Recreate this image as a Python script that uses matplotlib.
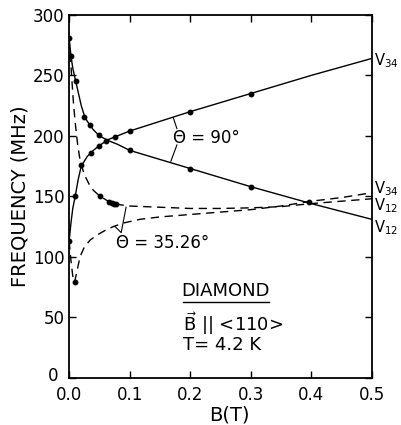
import numpy as np
import matplotlib.pyplot as plt
from matplotlib.transforms import ScaledTranslation

# theta = 90 deg (solid), line vertices and measured points
b_v34_90 = [0, 0.003, 0.006, 0.01, 0.015, 0.02, 0.03, 0.04, 0.05, 0.065, 0.08, 0.1, 0.2, 0.3, 0.4, 0.5]
f_v34_90 = [113, 128, 140, 150, 164, 175, 183, 188, 192, 197, 200, 204, 220, 235, 250, 264]
b_v34_90_pts = [0, 0.01, 0.02, 0.036, 0.05, 0.061, 0.076, 0.1, 0.2, 0.3]
f_v34_90_pts = [113, 150, 176, 186, 192, 196, 199, 204, 220, 235]

b_v12_90 = [0, 0.003, 0.006, 0.01, 0.015, 0.02, 0.025, 0.03, 0.04, 0.05, 0.065, 0.08, 0.1, 0.2, 0.3, 0.4, 0.5]
f_v12_90 = [281, 266, 256, 247, 236, 225, 217, 212, 205, 200, 196, 193, 188, 173, 158, 144, 131]
b_v12_90_pts = [0, 0.003, 0.0115, 0.025, 0.035, 0.05, 0.1, 0.2, 0.3]
f_v12_90_pts = [281, 266, 245, 216, 209, 201, 188, 173, 158]

# theta = 35.26 deg (dashed)
b_v12_35 = [0.002, 0.004, 0.007, 0.01, 0.014, 0.018, 0.025, 0.033, 0.04, 0.051, 0.068, 0.085, 0.1,
            0.15, 0.2, 0.25, 0.3, 0.35, 0.4, 0.45, 0.5]
f_v12_35 = [268, 250, 228, 211, 193, 180, 168, 160, 155, 150, 145, 143, 142,
            141, 140, 140, 140.5, 141.5, 144, 146, 148]
b_v12_35_pts = [0.051, 0.066, 0.07, 0.074, 0.077, 0.396]
f_v12_35_pts = [150, 145.5, 144.5, 144, 143.5, 145]

b_v34_35 = [0, 0.003, 0.006, 0.009, 0.012, 0.018, 0.025, 0.035, 0.046, 0.06, 0.073, 0.09, 0.117,
            0.15, 0.2, 0.25, 0.3, 0.35, 0.4, 0.45, 0.5]
f_v34_35 = [113, 97, 84, 79, 86, 100, 108, 114, 118, 122, 125, 128, 131,
            133, 135, 137, 139, 142, 146, 149, 153]
b_v34_35_pts = [0.009]
f_v34_35_pts = [79]

xticks = [0.0, 0.1, 0.2, 0.3, 0.4, 0.5]
yticks = [0, 50, 100, 150, 200, 250, 300]

fig = plt.figure(figsize=(4.02, 4.25), dpi=100)
ax = fig.add_axes([0.172, 0.111, 0.753, 0.854])

ax.plot(b_v34_90, f_v34_90, 'k-', lw=1.0)
ax.plot(b_v12_90, f_v12_90, 'k-', lw=1.0)
ax.plot(b_v34_90_pts, f_v34_90_pts, 'ko', ms=3.2)
ax.plot(b_v12_90_pts, f_v12_90_pts, 'ko', ms=3.2)

ax.plot(b_v12_35, f_v12_35, 'k--', lw=1.0, dashes=(6, 4))
ax.plot(b_v34_35, f_v34_35, 'k--', lw=1.0, dashes=(6, 4))
ax.plot(b_v12_35_pts, f_v12_35_pts, 'ko', ms=3.2)
ax.plot(b_v34_35_pts, f_v34_35_pts, 'ko', ms=3.2)

# angle markers
ax.plot([0.172, 0.178], [215, 206], 'k-', lw=0.8)
ax.plot([0.178, 0.168], [192.5, 179], 'k-', lw=0.8)
ax.text(0.171, 198, 'Θ = 90°', fontsize=12, va='center', ha='left')
ax.plot([0.094, 0.086, 0.076], [141, 120, 125], 'k-', lw=0.8)
ax.text(0.078, 111.5, 'Θ = 35.26°', fontsize=12, va='center', ha='left')

# sample info
ax.text(0.258, 72, 'DIAMOND', fontsize=13, ha='center', va='center')
ax.plot([0.188, 0.33], [63, 63], 'k-', lw=1.0)
ax.text(0.188, 45, r'$\vec{\mathrm{B}}$ || <110>', fontsize=13, ha='left', va='center')
ax.text(0.188, 27, 'T= 4.2 K', fontsize=13, ha='left', va='center')

# right-hand labels
for f, lab in [(262, r'V$_{34}$'), (156, r'V$_{34}$'), (142, r'V$_{12}$'), (124.5, r'V$_{12}$')]:
    ax.text(0.504, f, lab, fontsize=10.5, ha='left', va='center', clip_on=False)

ax.set_xlim(0, 0.5)
ax.set_ylim(0, 300)
ax.set_xticks(xticks)
ax.set_xticklabels(['0.0', '0.1', '0.2', '0.3', '0.4', '0.5'])
ax.set_yticks(yticks)
ax.tick_params(direction='in', length=5, width=1, top=True, right=True, labelsize=12)
ax.tick_params(axis='x', pad=6)
for s in ax.spines.values():
    s.set_linewidth(1.3)

# the "0" on the y axis sits a little up and left, as in the original
lbl0 = ax.get_yticklabels()[0]
lbl0.set_transform(lbl0.get_transform() + ScaledTranslation(-4 / 72, 3 / 72, fig.dpi_scale_trans))

ax.set_xlabel('B(T)', fontsize=14)
ax.xaxis.set_label_coords(0.53, -0.075)
ax.set_ylabel('FREQUENCY (MHz)', fontsize=14, labelpad=2)

plt.savefig('out.png', dpi=100)
